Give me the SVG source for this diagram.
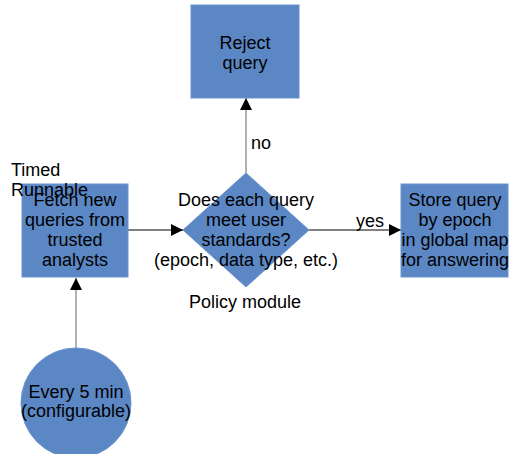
<svg xmlns="http://www.w3.org/2000/svg" width="509" height="454" viewBox="0 0 509 454">
  <style>
    .shape { fill: #5b87c5; stroke: #6a93cc; stroke-width: 1; }
    .label { font-family: "Liberation Sans", Arial, sans-serif; font-size: 18px; fill: #000; }
    .mid { text-anchor: middle; }
    .wire { stroke: #000; stroke-width: 1; fill: none; }
    .wire-grey { stroke: #808080; stroke-width: 1.2; fill: none; }
  </style>
  <defs>
    <marker id="arrow" viewBox="0 0 10 10" refX="10" refY="5" markerWidth="10" markerHeight="10" markerUnits="userSpaceOnUse" orient="auto">
      <path d="M0,0 L10,5 L0,10 z" fill="#000"/>
    </marker>
    <marker id="arrow-lg" viewBox="0 0 12 12" refX="12" refY="6" markerWidth="12" markerHeight="12" markerUnits="userSpaceOnUse" orient="auto">
      <path d="M0,0 L12,6 L0,12 z" fill="#000"/>
    </marker>
  </defs>

  <rect width="509" height="454" fill="#fff"/>

  <!-- connectors -->
  <g id="connectors">
    <line class="wire-grey" x1="76" y1="348" x2="76" y2="278" marker-end="url(#arrow-lg)"/>
    <line class="wire" x1="128" y1="230" x2="183" y2="230" marker-end="url(#arrow-lg)"/>
    <line class="wire" x1="308" y1="230" x2="401" y2="230" marker-end="url(#arrow-lg)"/>
    <line class="wire-grey" x1="246" y1="173" x2="246" y2="98" marker-end="url(#arrow-lg)"/>
    <text class="label" x="251" y="149">no</text>
    <text class="label" x="356" y="227">yes</text>
  </g>

  <!-- reject -->
  <g id="reject">
    <rect class="shape" x="191" y="5" width="108" height="93"/>
    <text class="label mid" x="245" y="49">Reject</text>
    <text class="label mid" x="245" y="69">query</text>
  </g>

  <!-- fetch -->
  <g id="fetch">
    <rect class="shape" x="22" y="184" width="106" height="93"/>
    <text class="label mid" x="75" y="206">Fetch new</text>
    <text class="label mid" x="75" y="226">queries from</text>
    <text class="label mid" x="75" y="246">trusted</text>
    <text class="label mid" x="75" y="266">analysts</text>
  </g>

  <!-- timer caption -->
  <g id="timed">
    <text class="label" x="11" y="176">Timed</text>
    <text class="label" x="11" y="196">Runnable</text>
  </g>

  <!-- policy decision -->
  <g id="policy">
    <polygon class="shape" points="246,173 309,230 246,287 183,230"/>
    <text class="label mid" x="246" y="206">Does each query</text>
    <text class="label mid" x="246" y="226">meet user</text>
    <text class="label mid" x="246" y="246">standards?</text>
    <text class="label mid" x="246" y="266">(epoch, data type, etc.)</text>
    <text class="label mid" x="245" y="308">Policy module</text>
  </g>

  <!-- store -->
  <g id="store">
    <rect class="shape" x="401" y="184" width="107" height="93"/>
    <text class="label mid" x="455" y="206">Store query</text>
    <text class="label mid" x="455" y="226">by epoch</text>
    <text class="label mid" x="455" y="246">in global map</text>
    <text class="label mid" x="455" y="266">for answering</text>
  </g>

  <!-- schedule -->
  <g id="schedule">
    <circle class="shape" cx="76" cy="403" r="55"/>
    <text class="label mid" x="76" y="398">Every 5 min</text>
    <text class="label mid" x="76" y="417">(configurable)</text>
  </g>
</svg>
